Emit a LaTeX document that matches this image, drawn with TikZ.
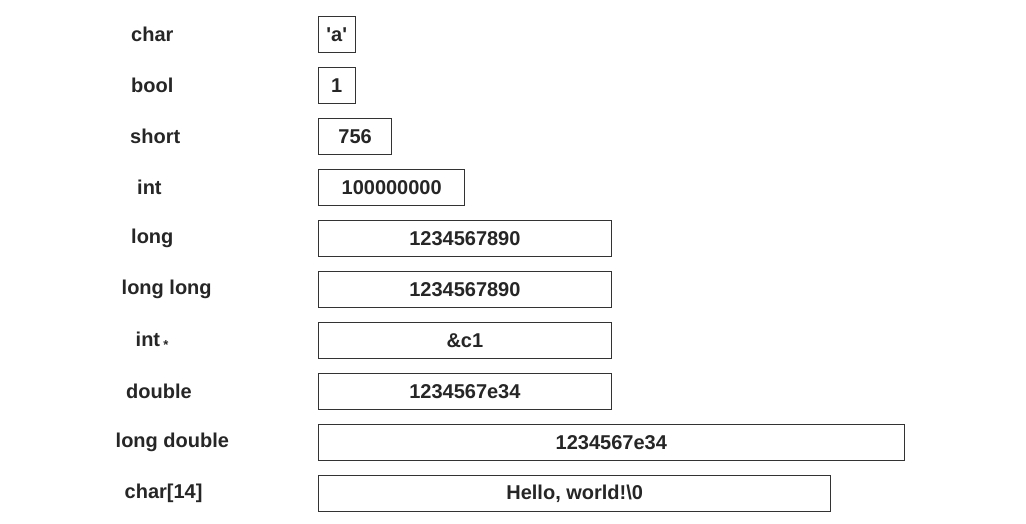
\documentclass[tikz,border=0pt]{standalone}
\usepackage{fontspec}
\setmainfont{Liberation Sans}
\begin{document}
\begin{tikzpicture}[x=1pt,y=-1pt,
  cell/.style={draw=black!80,line width=1pt,minimum height=36.6pt,inner sep=0pt,anchor=north west,font=\fontsize{20}{23}\selectfont\bfseries,text=black!85},
  tlabel/.style={anchor=west,inner sep=0pt,font=\fontsize{20}{23}\selectfont\bfseries,text=black!85}]
\useasboundingbox[fill=white] (0,0) rectangle (1026,524);
\def\u{36.6}
\node[cell,minimum width=1*\u pt] (b1) at (318,15.7) {\textquotesingle a\textquotesingle};
\node[cell,minimum width=1*\u pt] (b2) at (318,66.7) {1};
\node[cell,minimum width=2*\u pt] (b3) at (318,117.7) {756};
\node[cell,minimum width=4*\u pt] (b4) at (318,168.7) {100000000};
\node[cell,minimum width=8*\u pt] (b5) at (318,219.7) {1234567890};
\node[cell,minimum width=8*\u pt] (b6) at (318,270.7) {1234567890};
\node[cell,minimum width=8*\u pt] (b7) at (318,321.7) {\&c1};
\node[cell,minimum width=8*\u pt] (b8) at (318,372.7) {1234567e34};
\node[cell,minimum width=16*\u pt] (b9) at (318,423.7) {1234567e34};
\node[cell,minimum width=14*\u pt] (b10) at (318,474.7) {Hello, world!\textbackslash 0};
\node[tlabel] (l1) at (131,0 |- b1.center) {char};
\node[tlabel] (l2) at (131,0 |- b2.center) {bool};
\node[tlabel] (l3) at (130,0 |- b3.center) {short};
\node[tlabel] (l4) at (137,0 |- b4.center) {int};
\node[tlabel] (l5) at (131,0 |- b5.center) {long};
\node[tlabel] (l6) at (121.5,0 |- b6.center) {long long};
\node[tlabel] (l7) at (135.5,0 |- b7.center) {int\,\raisebox{-0.25ex}{\fontsize{13}{13}\selectfont *}};
\node[tlabel] (l8) at (126,0 |- b8.center) {double};
\node[tlabel] (l9) at (115.5,0 |- b9.center) {long double};
\node[tlabel] (l10) at (124.5,0 |- b10.center) {char[14]};
\end{tikzpicture}
\end{document}
